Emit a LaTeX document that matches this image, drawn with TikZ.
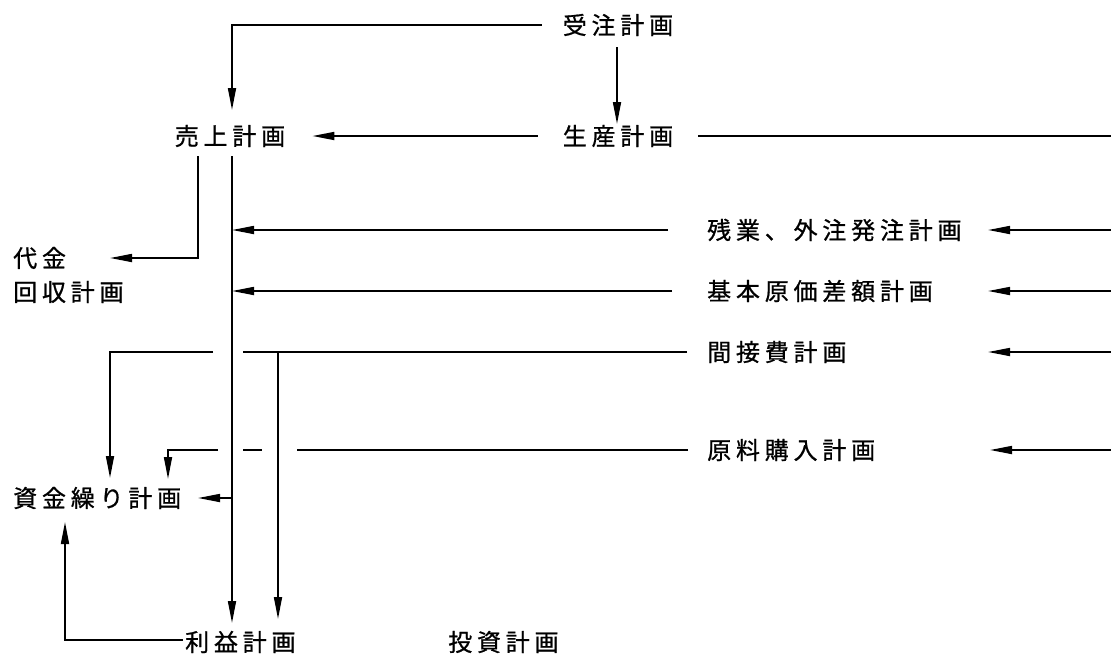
\documentclass[tikz,border=0pt]{standalone}
\usepackage{fontspec}
\newfontfamily\jpfont[LetterSpace=20,FakeBold=0.8]{Noto Sans CJK JP}
\usetikzlibrary{arrows.meta,calc}
\begin{document}
\begin{tikzpicture}[x=1pt,y=-1pt,
  lbl/.style={font=\jpfont\fontsize{24}{28}\selectfont, inner sep=0pt},
  lw/.style={lbl, anchor=west},
  ln/.style={line width=1.7pt},
  arr/.style={line width=1.7pt,-{Triangle[length=22pt,width=8pt]}}]
\useasboundingbox[fill=white] (0,0) rectangle (1111,657);
% nodes
\node[lbl] (juchu) at (618,25) {受注計画};
\node[lbl] (seisan) at (618,136) {生産計画};
\node[lbl] (uriage) at (230,136) {売上計画};
\node[lw] (daikin) at (13,258) {代金};
\node[lw] (kaishu) at (13,292) {回収計画};
\node[lw] (zangyo) at (707,230) {残業、外注発注計画};
\node[lw] (kihon) at (707,291) {基本原価差額計画};
\node[lw] (kansetsu) at (707,352) {間接費計画};
\node[lw] (genryo) at (707,450) {原料購入計画};
\node[lw] (shikin) at (13,498) {資金繰り計画};
\node[lw] (rieki) at (185,642) {利益計画};
\node[lw] (toshi) at (448,642) {投資計画};
% right-edge coordinates
\coordinate (r0) at (1111,136);
\coordinate (r1) at (1111,230);
\coordinate (r2) at (1111,291);
\coordinate (r3) at (1111,352);
\coordinate (r4) at (1111,450);
% top connectors
\draw[arr] ($(juchu.west)+(-21,0)$) -| ($(uriage.center)+(2,-26)$);
\draw[arr] ($(juchu.center)+(-1,22)$) -- ($(seisan.center)+(-1,-12)$);
\draw[arr] ($(seisan.west)+(-25,0)$) -- ($(uriage.east)+(27,0)$);
\draw[ln] ($(seisan.east)+(25,0)$) -- (r0);
% incoming from right
\draw[arr] (r1) -- ($(r1)+(-123,0)$);
\draw[arr] (r2) -- ($(r2)+(-123,0)$);
\draw[arr] (r3) -- ($(r3)+(-123,0)$);
\draw[arr] (r4) -- ($(r4)+(-121,0)$);
% rows to main vertical
\draw[arr] ($(zangyo.west)+(-39,0)$) -- ($(zangyo.west -| uriage.center)+(2,0)$);
\draw[arr] ($(kihon.west)+(-35,0)$) -- ($(kihon.west -| uriage.center)+(2,0)$);
% indirect cost row
\draw[ln] ($(kansetsu.west)+(-20,0)$) -- ($(kansetsu.west -| uriage.center)+(13,0)$);
\draw[arr] ($(kansetsu.west -| uriage.center)+(-17,0)$) -| ($(shikin.west)+(97,-20)$);
\draw[arr] ($(kansetsu.west -| uriage.center)+(48,0)$) -- ($(uriage.center |- rieki.west)+(48,-23)$);
% raw material row
\draw[ln] ($(genryo.west)+(-19,0)$) -- ($(genryo.west -| uriage.center)+(67,0)$);
\draw[ln] ($(genryo.west -| uriage.center)+(13,0)$) -- ($(genryo.west -| uriage.center)+(32,0)$);
\draw[arr] ($(genryo.west -| uriage.center)+(-12,0)$) -| ($(shikin.west)+(155,-19)$);
% main vertical
\draw[arr] ($(uriage.center)+(2,20)$) -- ($(uriage.center |- rieki.west)+(2,-19)$);
\draw[arr] ($(uriage.center)+(-32,20)$) |- ($(daikin.west)+(97,0)$);
\draw[arr] ($(shikin.west -| uriage.center)+(2,0)$) -- ($(shikin.west -| uriage.center)+(-32,0)$);
% profit to cash flow
\draw[arr] ($(rieki.west)+(-2,-2)$) -| ($(shikin.west)+(52,24)$);
\end{tikzpicture}
\end{document}
